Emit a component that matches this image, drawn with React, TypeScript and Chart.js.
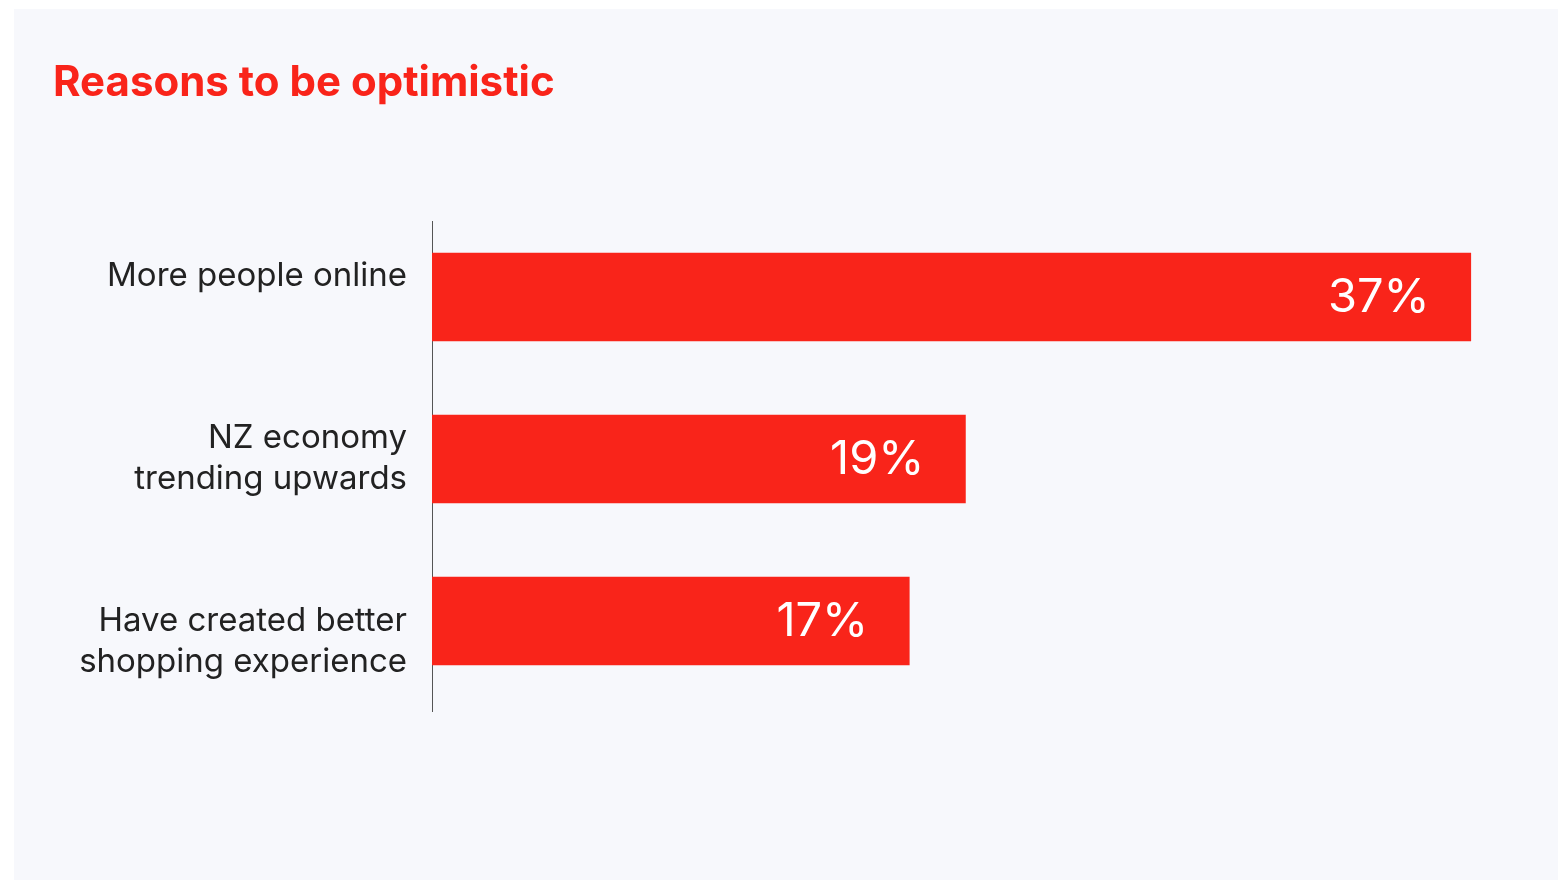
import React, { useEffect, useRef } from 'react';
import { Chart, registerables } from 'chart.js';

Chart.register(...registerables);

const TITLE = 'Reasons to be optimistic';
const categories: string[][] = [
  ['More people online', ''],
  ['NZ economy', 'trending upwards'],
  ['', 'Have created better', 'shopping experience'],
];
const values: number[] = [37, 19, 17];
const valueLabels: string[] = ['37%', '19%', '17%'];
const X_MIN = 0;
const X_MAX = 40;

const RED = '#f9241a';
const TEXT = '#222222';
const BG = '#f7f8fc';
const FONT = 'Inter, "Noto Sans", sans-serif';

const axisLinePlugin = {
  id: 'axisLine',
  beforeDatasetsDraw(chart: any) {
    const { ctx, chartArea } = chart;
    ctx.save();
    ctx.strokeStyle = '#555555';
    ctx.lineWidth = 1;
    ctx.beginPath();
    ctx.moveTo(chartArea.left + 0.5, chartArea.top + 5);
    ctx.lineTo(chartArea.left + 0.5, chartArea.bottom + 10);
    ctx.stroke();
    ctx.restore();
  },
};

const valueLabelPlugin = {
  id: 'valueLabels',
  afterDatasetsDraw(chart: any) {
    const { ctx } = chart;
    const meta = chart.getDatasetMeta(0);
    ctx.save();
    ctx.fillStyle = '#ffffff';
    ctx.font = `400 47px ${FONT}`;
    ctx.textAlign = 'right';
    ctx.textBaseline = 'middle';
    meta.data.forEach((bar: any, i: number) => {
      ctx.fillText(valueLabels[i], bar.x - 41, bar.y + 1);
    });
    ctx.restore();
  },
};

export default function App() {
  const ref = useRef<HTMLCanvasElement | null>(null);

  useEffect(() => {
    if (!ref.current) return;
    const chart = new Chart(ref.current, {
      type: 'bar',
      data: {
        labels: categories as any,
        datasets: [
          {
            data: values,
            backgroundColor: RED,
            borderWidth: 0,
            barThickness: 88,
          },
        ],
      },
      options: {
        indexAxis: 'y',
        responsive: false,
        animation: false,
        layout: { padding: { left: 39, right: 3, top: 0, bottom: 178 } },
        plugins: {
          legend: { display: false },
          tooltip: { enabled: false },
          title: {
            display: true,
            text: TITLE,
            align: 'start',
            color: RED,
            font: { family: FONT, size: 42, weight: 'bold', lineHeight: 1.2 },
            padding: { top: 49, bottom: 107.6 },
          },
        },
        scales: {
          x: {
            display: false,
            min: X_MIN,
            max: X_MAX,
          },
          y: {
            grid: { display: false, drawTicks: false },
            border: { display: false },
            ticks: {
              color: TEXT,
              padding: 25,
              font: { family: FONT, size: 33, lineHeight: 41 / 33 },
            },
            afterFit(scale: any) {
              scale.width = 379;
            },
          },
        },
      },
      plugins: [axisLinePlugin, valueLabelPlugin],
    });
    return () => chart.destroy();
  }, []);

  return (
    <div
      style={{
        position: 'absolute',
        left: 14,
        top: 9,
        width: 1544,
        height: 871,
        background: BG,
      }}
    >
      <canvas ref={ref} width={1544} height={871} style={{ display: 'block' }} />
    </div>
  );
}
